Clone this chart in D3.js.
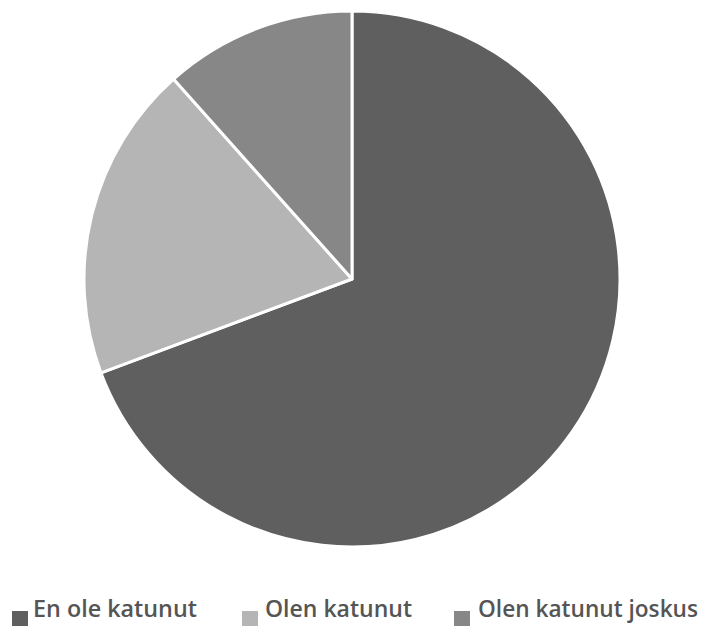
<!DOCTYPE html>
<html>
<head>
<meta charset="utf-8">
<script src="https://cdn.jsdelivr.net/npm/d3@7"></script>
<style>
  html, body { margin: 0; padding: 0; background: #fff; }
  svg { display: block; }
</style>
</head>
<body>
<svg id="chart" width="706" height="626"></svg>
<script>
const categories = ["En ole katunut", "Olen katunut", "Olen katunut joskus"];
const values = [69.3, 19.1, 11.6];

const colors = ["#5f5f5f", "#b5b5b5", "#878787"];
const svg = d3.select("#chart");
const cx = 352, cy = 279, r = 268;

const data = categories.map((c, i) => ({ name: c, value: values[i], color: colors[i] }));
const pie = d3.pie().value(d => d.value).sort(null);
const arc = d3.arc().innerRadius(0).outerRadius(r);

svg.append("g")
  .attr("transform", `translate(${cx},${cy})`)
  .selectAll("path")
  .data(pie(data))
  .join("path")
  .attr("d", arc)
  .attr("fill", d => d.data.color)
  .attr("stroke", "#fff")
  .attr("stroke-width", 3)
  .attr("stroke-linejoin", "round");

// legend
const legendX = [12, 242, 454];
const textX = [33, 265, 478];
const textW = [164, 147, 220];
const lg = svg.append("g");
data.forEach((d, i) => {
  lg.append("rect")
    .attr("x", legendX[i]).attr("y", 611)
    .attr("width", 16).attr("height", 15)
    .attr("fill", d.color);
  lg.append("text")
    .attr("x", textX[i]).attr("y", 617)
    .attr("font-family", "'Open Sans', 'Noto Sans', sans-serif")
    .attr("font-size", 23)
    .attr("font-weight", 600)
    .attr("fill", "#555555")
    .attr("textLength", textW[i])
    .attr("lengthAdjust", "spacingAndGlyphs")
    .text(d.name);
});
</script>
</body>
</html>
